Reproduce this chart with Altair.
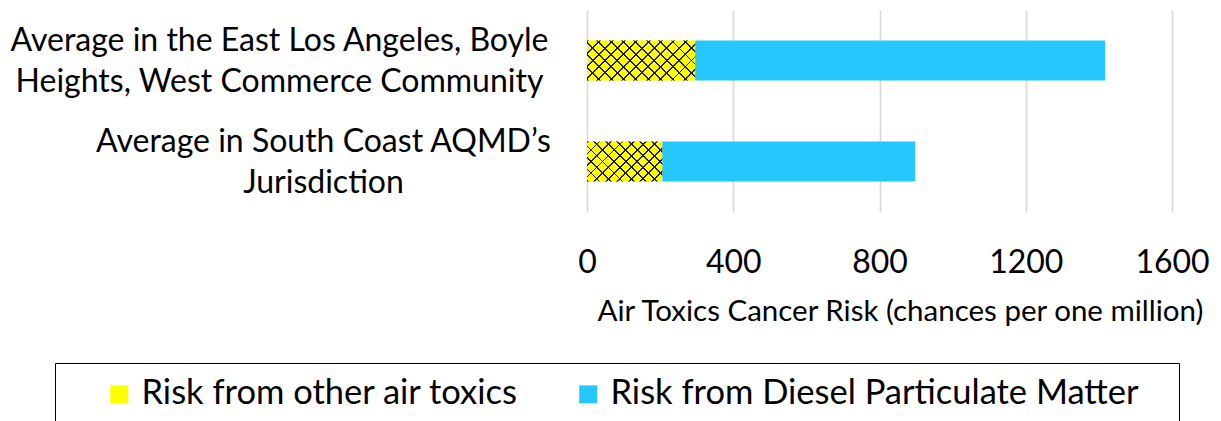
import altair as alt
import pandas as pd

# ---- data ----
categories = [
    "Average in the East Los Angeles, Boyle|Heights, West Commerce Community",
    "Average in South Coast AQMD’s|Jurisdiction",
]
series = ["Risk from other air toxics", "Risk from Diesel Particulate Matter"]
other_risk = [296, 206]
diesel_risk = [1121, 692]
x_ticks = [0, 400, 800, 1200, 1600]
colors = ["#FFFF00", "#25C7FF"]
axis_title = "Air Toxics Cancer Risk (chances per one million)"

rows = []
for cat, o, d in zip(categories, other_risk, diesel_risk):
    rows.append({"category": cat, "series": series[0], "idx": 0, "value": o})
    rows.append({"category": cat, "series": series[1], "idx": 1, "value": d})
df = pd.DataFrame(rows)

PLOT_W, PLOT_H, BAR_H = 585, 202, 40
X_MAX = 1600
FONT = "Lato"


# ---- hatch style (diagonal lines via hard-stop gradients) ----
def hatch(width_px, flip, period=12.0, w=0.16, col="#1a1a3a"):
    r = BAR_H / width_px
    s = (1 + r) / (1 + r * r)
    n = max(1, round(width_px * (1 + r) / period))
    clear = "rgba(26,26,58,0)"
    stops = []
    for k in range(n):
        a = k / n
        b = a + w / n
        stops += [
            {"offset": a, "color": clear},
            {"offset": a, "color": col},
            {"offset": b, "color": col},
            {"offset": b, "color": clear},
        ]
    stops.append({"offset": 1, "color": clear})
    if flip:
        return {"gradient": "linear", "x1": 0, "y1": 1, "x2": s, "y2": 1 - s * r, "stops": stops}
    return {"gradient": "linear", "x1": 0, "y1": 0, "x2": s, "y2": s * r, "stops": stops}


x_axis = alt.Axis(
    values=x_ticks, format="d", grid=True, gridColor="#d9d9d9", gridWidth=1.7,
    domain=False, ticks=False, tickSize=0, labelFlush=False,
    labelFont=FONT, labelFontSize=32, labelPadding=35, labelColor="black",
    title=axis_title, titleFont=FONT, titleFontSize=29.5, titleFontWeight="normal",
    titleColor="black", titleX=313, titleY=108, titleAlign="center",
    titleBaseline="alphabetic",
)

y_axis = alt.Axis(
    title=None, domain=False, ticks=False, tickSize=0, grid=False,
    labelExpr="split(datum.value, '|')",
    labelFont=FONT, labelFontSize=32, labelLineHeight=41, labelColor="black",
    labelAlign="center", labelBaseline="middle", labelLimit=1000, labelOffset=-20,
    labelPadding={"condition": {"test": f"datum.value == '{categories[0]}'", "value": 308},
                  "value": 264},
)

nb = "\u00a0"
blank = "\u2800"
legend = alt.Legend(
    orient="none", legendX=-532, legendY=353, direction="horizontal",
    title=nb, titleOrient="left", titleFontSize=80, titlePadding=33,
    strokeColor="black", padding=14,
    symbolType="square", symbolSize=324, symbolStrokeWidth=0,
    labelFont=FONT, labelFontSize=34.5, labelColor="black", labelOffset=5,
    labelLimit=1000, columnPadding=52,
    labelExpr=f"datum.label == '{series[1]}' ? datum.label + '{blank}' : datum.label",
)

base = alt.Chart(df)

bars = base.mark_bar(size=BAR_H).encode(
    x=alt.X("value:Q", stack="zero", scale=alt.Scale(domain=[0, X_MAX], nice=False), axis=x_axis),
    y=alt.Y("category:N", sort=categories,
            scale=alt.Scale(paddingInner=0, paddingOuter=0), axis=y_axis),
    color=alt.Color("series:N", scale=alt.Scale(domain=series, range=colors), legend=legend),
    order=alt.Order("idx:Q"),
)

layers = [bars]
for cat, val in zip(categories, other_risk):
    w_px = val * PLOT_W / X_MAX
    for flip in (False, True):
        layers.append(
            base.transform_filter((alt.datum.idx == 0) & (alt.datum.category == cat))
            .mark_bar(size=BAR_H, fill=hatch(w_px, flip))
            .encode(x=alt.X("value:Q"), y=alt.Y("category:N", sort=categories))
        )

chart = alt.layer(*layers).properties(
    width=PLOT_W, height=PLOT_H,
    padding={"left": 579, "top": 2, "right": 41, "bottom": 209},
    autosize=alt.AutoSizeParams(type="none"),
).configure(font=FONT, view=alt.ViewConfig(strokeWidth=0))

chart.save("out.html", embed_options={"renderer": "svg", "actions": False})
